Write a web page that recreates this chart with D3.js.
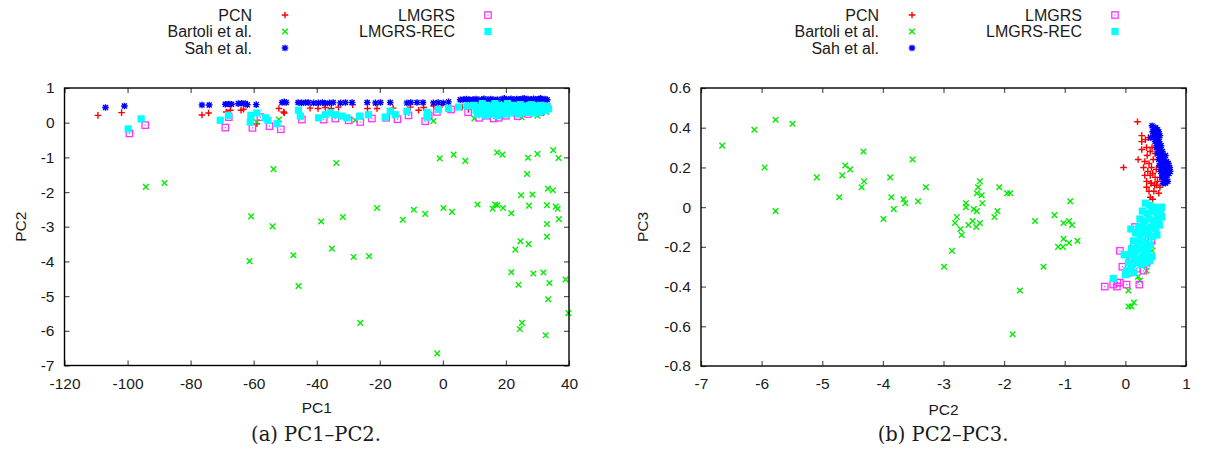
<!DOCTYPE html>
<html>
<head>
<meta charset="utf-8">
<script src="https://cdn.jsdelivr.net/npm/d3@7"></script>
<style>
  html, body { margin: 0; padding: 0; background: #fff; }
  svg { display: block; }
  text { font-family: "Liberation Sans", Arial, sans-serif; fill: #1a1a1a; }
  .caption { font-family: "DejaVu Serif", "Liberation Serif", serif; }
</style>
</head>
<body>
<div id="chart"></div>
<script>
// ---------- DATA ----------
const seriesNames = ["PCN", "Bartoli et al.", "Sah et al.", "LMGRS", "LMGRS-REC"];

// Panel (a): PC1 vs PC2
const xTicksA = [-120, -100, -80, -60, -40, -20, 0, 20, 40];
const yTicksA = [-7, -6, -5, -4, -3, -2, -1, 0, 1];

const pcnA = [[-109.4,0.21],[-101.9,0.29],[-76.4,0.22],[-74.3,0.28],[-68.7,0.31],[-67.4,0.36],[-64.0,0.36],[-63.2,0.39],[-59.0,-0.03],[-52,0.41],[-50.3,0.28],[-50.5,0.31],[-42.1,0.42],[-39.6,0.41],[-37.3,0.44],[-35.4,0.41],[-33.1,0.45],[-28.6,0.52],[-23.9,0.41],[-20.9,0.41],[-15.8,0.42],[-10.3,0.45],[-7.7,0.36],[-6.1,0.44],[-2.9,0.48],[-0.3,0.52],[6.1,0.45],[8.1,0.39],[15,0.5],[12,0.55],[18,0.45],[22,0.5],[26,0.52],[30,0.48],[33,0.55],[20,0.6],[28,0.58],[10,0.6]];

const bartoliA = [[-94.2,-1.85],[-88.3,-1.74],[-53.7,-1.34],[-60.8,-2.70],[-54.0,-2.99],[-61.3,-3.99],[-47.4,-3.82],[-45.8,-4.71],[-38.6,-2.85],[-31.7,-2.72],[-35.2,-3.63],[-28.3,-3.87],[-23.4,-3.85],[-26.2,-5.77],[-33.8,-1.16],[-20.9,-2.46],[-12.7,-2.80],[-9.2,-2.51],[-5.6,-2.63],[2.9,-2.57],[-1.8,-6.65],[-1.0,-1.03],[3.4,-0.92],[7.1,-1.10],[0.2,-2.46],[11.0,-2.36],[15.8,-2.48],[16.6,-2.36],[17.3,-2.38],[19.1,-2.46],[21.7,-2.61],[17.2,-0.86],[18.9,-0.92],[27.0,-1.01],[30.0,-0.90],[35.0,-0.79],[36.7,-1.02],[26.7,-1.48],[24.8,-2.09],[28.4,-2.07],[33.3,-1.90],[34.9,-1.95],[27.3,-2.39],[33.0,-2.38],[35.8,-2.42],[36.4,-2.48],[36.8,-2.78],[33.0,-2.92],[33.0,-3.29],[24.6,-3.42],[23.0,-3.66],[27.2,-3.50],[21.7,-4.31],[24.0,-4.67],[28.7,-4.35],[31.9,-4.32],[33.8,-4.62],[38.9,-4.52],[33.4,-5.09],[39.8,-5.49],[25.1,-5.77],[24.4,-5.95],[32.6,-6.13],[-59,0.02],[-52,0.09],[-27.8,0.07],[32.8,0.31],[-3.0,0.05],[10,0.12],[25,0.15],[30,0.2]];

const sahA = [[-107,0.44],[-101,0.48],[-76.4,0.51],[-74.1,0.51],[-69,0.53],[-68,0.54],[-67,0.53],[-64.9,0.55],[-63.8,0.56],[-62.7,0.55],[-62,0.52],[-59.2,0.52],[-51,0.58],[-50.3,0.6],[-49.7,0.58],[-45.9,0.58],[-44.8,0.57],[-43.6,0.58],[-42.7,0.58],[-41,0.57],[-39.5,0.57],[-38.2,0.58],[-37.3,0.56],[-36,0.57],[-34.8,0.58],[-32.5,0.57],[-30.9,0.58],[-28.8,0.58],[-24,0.58],[-21.4,0.57],[-19.8,0.58],[-16.7,0.58],[-11.4,0.57],[-10.2,0.58],[-8.2,0.58],[-6.3,0.58],[-3,0.57],[-1.5,0.58],[0.1,0.57],[1.8,0.6],[5.5,0.66],[6.5,0.67],[7.5,0.68],[8.5,0.66],[9.5,0.67],[10.5,0.68],[11.5,0.66],[12.8,0.67],[14.1,0.66],[15.2,0.68],[16.2,0.66],[17.3,0.67],[18.9,0.68],[19.8,0.66],[20.8,0.67],[21.6,0.69],[22.5,0.66],[23.4,0.68],[24.3,0.67],[25.2,0.69],[26.1,0.66],[27.0,0.68],[27.9,0.67],[28.8,0.69],[29.7,0.66],[30.6,0.68],[31.5,0.67],[32.4,0.68],[33.1,0.66],[13,0.69],[19.5,0.7],[25.8,0.7],[31,0.7],[10,0.64],[22,0.64],[28,0.64]];

const lmgrsA = [[-99.4,-0.31],[-94.4,-0.07],[-69.0,-0.14],[-67.9,0.16],[-60.4,-0.15],[-57.9,0.16],[-55,-0.10],[-51.4,-0.19],[-44.7,0.09],[-37.8,0.09],[-34.1,0.12],[-29.9,0.07],[-26.2,0.02],[-22.5,0.12],[-18,0.14],[-14.4,0.10],[-10.9,0.21],[-5.6,0.04],[-4.5,0.21],[-1.9,0.31],[2.6,0.38],[11.5,0.14],[16.1,0.12],[17.7,0.14],[23.7,0.19],[33.0,0.44],[8,0.3],[14,0.2],[20,0.2],[27,0.25],[31,0.3]];

const lmgrsRecA = [[-99.8,-0.18],[-95.7,0.11],[-70.6,0.07],[-68.0,0.21],[-60.9,0.21],[-61.1,0.02],[-59,0.28],[-56.3,0.14],[-55.5,0.07],[-52.6,-0.03],[-45.8,0.36],[-45.2,0.19],[-39.4,0.14],[-37.3,0.23],[-35.7,0.29],[-34.1,0.23],[-32,0.19],[-30.4,0.14],[-26.4,0.19],[-23.6,0.23],[-18.3,0.16],[-16.7,0.33],[-15.1,0.23],[-11.4,0.33],[-5.0,0.29],[-5.0,0.16],[-1.4,0.38],[1.8,0.41],[5.0,0.45],[7.6,0.48],[9.8,0.5],[10.5,0.35],[11,0.25],[11.5,0.45],[12,0.3],[12.5,0.55],[13,0.4],[13.5,0.22],[14,0.5],[14.5,0.3],[15,0.45],[15.5,0.35],[16,0.25],[16.5,0.55],[17,0.4],[17.5,0.2],[18,0.5],[18.5,0.3],[19,0.45],[19.5,0.35],[20,0.25],[20.5,0.55],[21,0.4],[21.5,0.28],[22,0.5],[22.5,0.32],[23,0.45],[23.5,0.38],[24,0.25],[24.5,0.52],[25,0.42],[25.5,0.3],[26,0.48],[26.5,0.35],[27,0.45],[27.5,0.3],[28,0.52],[28.5,0.4],[29,0.28],[29.5,0.48],[30,0.38],[30.5,0.3],[31,0.5],[31.5,0.4],[32,0.45],[32.5,0.35],[33,0.48],[33.5,0.4]];

// Panel (b): PC2 vs PC3
const xTicksB = [-7, -6, -5, -4, -3, -2, -1, 0, 1];
const yTicksB = [-0.8, -0.6, -0.4, -0.2, 0, 0.2, 0.4, 0.6];

const pcnB = [[0.20,0.43],[0.27,0.36],[0.27,0.33],[0.33,0.34],[0.38,0.35],[0.27,0.29],[0.35,0.30],[0.44,0.30],[0.41,0.28],[0.49,0.27],[0.21,0.24],[-0.03,0.20],[0.32,0.23],[0.39,0.22],[0.46,0.24],[0.43,0.20],[0.51,0.19],[0.32,0.16],[0.41,0.16],[0.49,0.15],[0.57,0.15],[0.35,0.13],[0.43,0.12],[0.51,0.11],[0.35,0.10],[0.57,0.10],[0.41,0.05],[0.45,0.04],[0.37,0.18],[0.45,0.17],[0.53,0.13],[0.47,0.08],[0.39,0.08],[0.55,0.07],[0.30,0.20],[0.36,0.26],[0.42,0.12],[0.48,0.11]];

const bartoliB = [[-6.65,0.31],[-6.12,0.39],[-5.77,0.44],[-5.49,0.42],[-5.95,0.20],[-5.77,-0.02],[-5.09,0.15],[-4.72,0.05],[-4.67,0.16],[-4.62,0.21],[-4.54,0.19],[-4.32,0.28],[-4.35,0.10],[-4.31,0.13],[-3.99,-0.06],[-3.88,0.15],[-3.86,0.05],[-3.82,-0.01],[-3.66,0.04],[-3.63,0.02],[-3.51,0.24],[-3.42,0.03],[-3.29,0.10],[-2.40,0.13],[-2.43,0.10],[-2.08,0.10],[-1.95,0.07],[-1.90,0.07],[-2.45,0.07],[-2.37,0.06],[-2.36,0.02],[-2.63,0.02],[-2.63,0.00],[-2.50,-0.01],[-2.45,-0.02],[-2.11,-0.02],[-2.16,-0.05],[-2.78,-0.05],[-2.81,-0.08],[-2.59,-0.09],[-2.52,-0.07],[-2.40,-0.08],[-2.46,-0.10],[-2.72,-0.11],[-2.70,-0.14],[-2.86,-0.22],[-2.99,-0.30],[-1.74,-0.42],[-1.86,-0.64],[-0.91,0.03],[-1.49,-0.07],[-1.17,-0.04],[-1.02,-0.08],[-0.93,-0.07],[-0.88,-0.09],[-1.02,-0.16],[-1.11,-0.20],[-1.03,-0.20],[-0.93,-0.18],[-0.79,-0.17],[-1.35,-0.30],[0.21,-0.35],[0.24,-0.37],[0.05,-0.42],[0.05,-0.50],[0.10,-0.50],[0.14,-0.48],[0.35,-0.32],[0.44,-0.22],[0.43,-0.19]];

const sahB = [[0.44,0.41],[0.47,0.40],[0.50,0.40],[0.53,0.39],[0.45,0.38],[0.49,0.38],[0.52,0.37],[0.55,0.38],[0.47,0.36],[0.51,0.35],[0.54,0.35],[0.57,0.36],[0.42,0.35],[0.49,0.33],[0.53,0.32],[0.56,0.33],[0.59,0.31],[0.51,0.30],[0.55,0.29],[0.58,0.29],[0.61,0.28],[0.53,0.27],[0.57,0.26],[0.60,0.26],[0.63,0.25],[0.66,0.26],[0.55,0.24],[0.59,0.23],[0.62,0.23],[0.65,0.22],[0.68,0.23],[0.71,0.22],[0.56,0.21],[0.60,0.20],[0.64,0.20],[0.67,0.19],[0.70,0.19],[0.73,0.20],[0.58,0.18],[0.62,0.17],[0.66,0.17],[0.69,0.16],[0.72,0.17],[0.60,0.15],[0.64,0.14],[0.67,0.14],[0.70,0.13],[0.62,0.12],[0.66,0.12],[0.52,0.31],[0.48,0.36],[0.74,0.18]];

const lmgrsB = [[-0.34,-0.40],[-0.20,-0.39],[-0.14,-0.40],[-0.09,-0.38],[0.02,-0.39],[0.23,-0.39],[-0.09,-0.22],[0.08,-0.27],[0.30,-0.32],[0.19,-0.31],[0.14,-0.18],[0.43,-0.17],[0.52,-0.08],[0.16,-0.10],[-0.13,-0.38],[0.05,-0.33],[0.35,-0.28],[0.25,-0.20],[0.45,-0.12],[0.58,-0.04],[0.10,-0.25],[0.33,-0.16],[-0.05,-0.30]];

const lmgrsRecB = [[0.33,0.02],[0.40,0.01],[0.48,0.00],[0.55,-0.01],[0.60,0.00],[0.28,-0.02],[0.36,-0.03],[0.44,-0.02],[0.52,-0.04],[0.58,-0.03],[0.24,-0.06],[0.31,-0.07],[0.39,-0.06],[0.47,-0.07],[0.54,-0.06],[0.22,-0.10],[0.29,-0.10],[0.36,-0.11],[0.43,-0.10],[0.50,-0.11],[0.09,-0.11],[0.17,-0.13],[0.24,-0.14],[0.31,-0.13],[0.38,-0.14],[0.45,-0.15],[0.52,-0.14],[0.13,-0.17],[0.20,-0.18],[0.27,-0.17],[0.34,-0.18],[0.41,-0.19],[0.10,-0.21],[0.17,-0.22],[0.24,-0.21],[0.31,-0.22],[0.37,-0.21],[0.08,-0.24],[0.15,-0.25],[0.22,-0.26],[0.29,-0.25],[0.36,-0.24],[0.44,-0.25],[-0.02,-0.24],[0.05,-0.28],[0.12,-0.29],[0.19,-0.28],[0.26,-0.29],[0.33,-0.28],[0.40,-0.27],[0.02,-0.32],[0.09,-0.31],[0.14,-0.33],[0.00,-0.34],[-0.20,-0.36],[0.56,-0.09],[0.60,-0.05]];

// ---------- STYLE ----------
const styles = [
  { type: "plus",  color: "#ff0000" },
  { type: "cross", color: "#00ee00" },
  { type: "star",  color: "#0000ff" },
  { type: "box",   color: "#ff33ff" },
  { type: "fbox",  color: "#00ffff" }
];

const W = 1205, H = 452;
const svg = d3.select("#chart").append("svg").attr("width", W).attr("height", H);

function markerPath(type) {
  const s = 3.3;
  if (type === "plus") return `M${-s},0H${s}M0,${-s}V${s}`;
  if (type === "cross") return `M-2.8,-2.8L2.8,2.8M-2.8,2.8L2.8,-2.8`;
  if (type === "star") return `M${-s},0H${s}M0,${-s}V${s}M-2.5,-2.5L2.5,2.5M-2.5,2.5L2.5,-2.5`;
  return null;
}

function drawMarker(g, type, color, x, y) {
  if (type === "box") {
    g.append("rect").attr("x", x - 3.2).attr("y", y - 3.2).attr("width", 6.4).attr("height", 6.4)
      .attr("fill", "none").attr("stroke", color).attr("stroke-width", 1.3);
    g.append("rect").attr("x", x - 0.6).attr("y", y - 0.6).attr("width", 1.2).attr("height", 1.2).attr("fill", color);
  } else if (type === "fbox") {
    g.append("rect").attr("x", x - 3.6).attr("y", y - 3.6).attr("width", 7.2).attr("height", 7.2).attr("fill", color);
  } else {
    g.append("path").attr("d", markerPath(type)).attr("transform", `translate(${x},${y})`)
      .attr("fill", "none").attr("stroke", color).attr("stroke-width", 1.4);
  }
}

function panel(cfg) {
  const x = d3.scaleLinear().domain(cfg.xDomain).range([cfg.left, cfg.right]);
  const y = d3.scaleLinear().domain(cfg.yDomain).range([cfg.bottom, cfg.top]);
  const g = svg.append("g");

  // data
  cfg.series.forEach((data, i) => {
    const st = styles[i];
    const sg = g.append("g");
    data.forEach(d => drawMarker(sg, st.type, st.color, x(d[0]), y(d[1])));
  });

  // axes (inward ticks on all four sides)
  const tickLen = 5;
  const bottom = g.append("g").attr("transform", `translate(0,${cfg.bottom})`)
    .call(d3.axisBottom(x).tickValues(cfg.xTicks).tickSize(-tickLen).tickPadding(12).tickFormat(cfg.xFmt));
  const top = g.append("g").attr("transform", `translate(0,${cfg.top})`)
    .call(d3.axisTop(x).tickValues(cfg.xTicks).tickSize(-tickLen).tickFormat(""));
  const left = g.append("g").attr("transform", `translate(${cfg.left},0)`)
    .call(d3.axisLeft(y).tickValues(cfg.yTicks).tickSize(-tickLen).tickPadding(10).tickFormat(cfg.yFmt));
  const right = g.append("g").attr("transform", `translate(${cfg.right},0)`)
    .call(d3.axisRight(y).tickValues(cfg.yTicks).tickSize(-tickLen).tickFormat(""));
  [bottom, top, left, right].forEach(a => {
    a.select(".domain").remove();
    a.selectAll(".tick line").attr("stroke", "#555").attr("stroke-width", 1.2);
    a.selectAll("text").attr("font-size", 15.5).attr("fill", "#1a1a1a")
      .attr("font-family", "'Liberation Sans', Arial, sans-serif");
  });
  // frame
  g.append("rect").attr("x", cfg.left).attr("y", cfg.top)
    .attr("width", cfg.right - cfg.left).attr("height", cfg.bottom - cfg.top)
    .attr("fill", "none").attr("stroke", "#000").attr("stroke-width", 1.4);

  // axis labels
  g.append("text").attr("x", (cfg.left + cfg.right) / 2).attr("y", cfg.xLabelY)
    .attr("text-anchor", "middle").attr("font-size", 15.5).text(cfg.xLabel);
  g.append("text").attr("transform", `translate(${cfg.yLabelX},${(cfg.top + cfg.bottom) / 2}) rotate(-90)`)
    .attr("text-anchor", "middle").attr("font-size", 15.5).text(cfg.yLabel);

  // caption
  g.append("text").attr("class", "caption").attr("x", cfg.captionX).attr("y", 441)
    .attr("text-anchor", "middle").attr("font-size", 19.5).text(cfg.caption);

  // legend
  const lg = g.append("g");
  const cols = [[0, 1, 2], [3, 4]];
  cols.forEach((idxs, c) => {
    idxs.forEach((si, r) => {
      const ty = 15 + r * 16.5;
      lg.append("text").attr("x", cfg.legendX[c]).attr("y", ty).attr("dy", "0.35em")
        .attr("text-anchor", "end").attr("font-size", 16).text(seriesNames[si]);
      drawMarker(lg, styles[si].type, styles[si].color, cfg.legendX[c] + 33, ty);
    });
  });
}

panel({
  left: 64.5, right: 569, top: 88, bottom: 365.5,
  xDomain: [-120, 40], yDomain: [-7, 1],
  xTicks: xTicksA, yTicks: yTicksA,
  xFmt: d => String(d), yFmt: d => String(d),
  series: [pcnA, bartoliA, sahA, lmgrsA, lmgrsRecA],
  xLabel: "PC1", yLabel: "PC2", xLabelY: 413, yLabelX: 26,
  caption: "(a) PC1\u2013PC2.", captionX: 316,
  legendX: [252, 455]
});

panel({
  left: 701, right: 1186, top: 88, bottom: 366,
  xDomain: [-7, 1], yDomain: [-0.8, 0.6],
  xTicks: xTicksB, yTicks: yTicksB,
  xFmt: d => String(d), yFmt: d => (Math.abs(d) < 1e-9 ? "0" : String(+d.toFixed(1))),
  series: [pcnB, bartoliB, sahB, lmgrsB, lmgrsRecB],
  xLabel: "PC2", yLabel: "PC3", xLabelY: 415, yLabelX: 648,
  caption: "(b) PC2\u2013PC3.", captionX: 943,
  legendX: [879, 1082]
});
</script>
</body>
</html>
